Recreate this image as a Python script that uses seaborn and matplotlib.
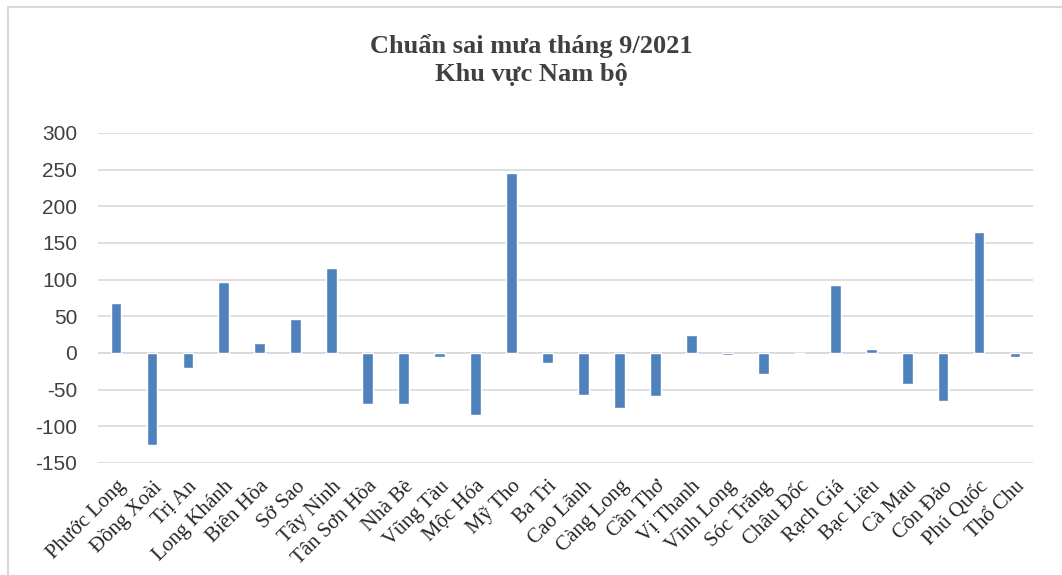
import pandas as pd
import seaborn as sns
import matplotlib.pyplot as plt
from matplotlib.patches import Rectangle

stations = [
    "Phước Long", "Đồng Xoài", "Trị An", "Long Khánh", "Biên Hòa", "Sở Sao",
    "Tây Ninh", "Tân Sơn Hòa", "Nhà Bè", "Vũng Tàu", "Mộc Hóa", "Mỹ Tho",
    "Ba Tri", "Cao Lãnh", "Càng Long", "Cần Thơ", "Vị Thanh", "Vĩnh Long",
    "Sóc Trăng", "Châu Đốc", "Rạch Giá", "Bạc Liêu", "Cà Mau", "Côn Đảo",
    "Phú Quốc", "Thổ Chu",
]
anomaly = [
    68, -125, -20, 97, 14, 46, 116, -70, -70, -5, -84, 245,
    -13, -57, -75, -58, 25, -3, -28, 0, 93, 5, -42, -65, 165, -5,
]
y_ticks = [-150, -100, -50, 0, 50, 100, 150, 200, 250, 300]

df = pd.DataFrame({"station": stations, "anomaly": anomaly})

sns.set_theme(style="white")
plt.rcParams["axes.unicode_minus"] = False
fig = plt.figure(figsize=(10.62, 5.75), dpi=100)
ax = fig.add_axes([98 / 1062, 1 - 463 / 575, 935 / 1062, 330 / 575])

sns.barplot(data=df, x="station", y="anomaly", color="#4F81BD",
            saturation=1, width=0.3, ax=ax)

ax.set_ylim(-150, 300)
ax.set_yticks(y_ticks)
ax.set_xlim(-0.5, len(stations) - 0.5)
ax.yaxis.grid(True, color="#D9D9D9", linewidth=1.2)
ax.set_axisbelow(True)
for s in ax.spines.values():
    s.set_visible(False)
ax.axhline(0, color="#D9D9D9", linewidth=1.2, zorder=0)
ax.set_xlabel("")
ax.set_ylabel("")
ax.tick_params(axis="both", length=0)
ax.tick_params(axis="y", pad=15)
ax.tick_params(axis="x", pad=10)

for lab in ax.get_yticklabels():
    lab.set_family("Liberation Sans")
    lab.set_fontsize(15)
    lab.set_color("#404040")
for lab in ax.get_xticklabels():
    lab.set_family("Liberation Serif")
    lab.set_fontsize(15)
    lab.set_color("#262626")
    lab.set_rotation(45)
    lab.set_ha("right")
    lab.set_rotation_mode("anchor")

fig.text(0.5, 1 - 60 / 575, "Chuẩn sai mưa tháng 9/2021\nKhu vực Nam bộ",
         ha="center", va="center", family="Liberation Serif",
         fontsize=19, fontweight="bold", color="#404040", linespacing=1.3)

# chart frame (only top/left visible in the crop)
fig.patches.append(Rectangle((8 / 1062, -0.05), 1.1, 1 - 7 / 575 + 0.05,
                             transform=fig.transFigure, fill=False,
                             edgecolor="#D9D9D9", linewidth=1.5))

fig.savefig("out.png", dpi=100)
